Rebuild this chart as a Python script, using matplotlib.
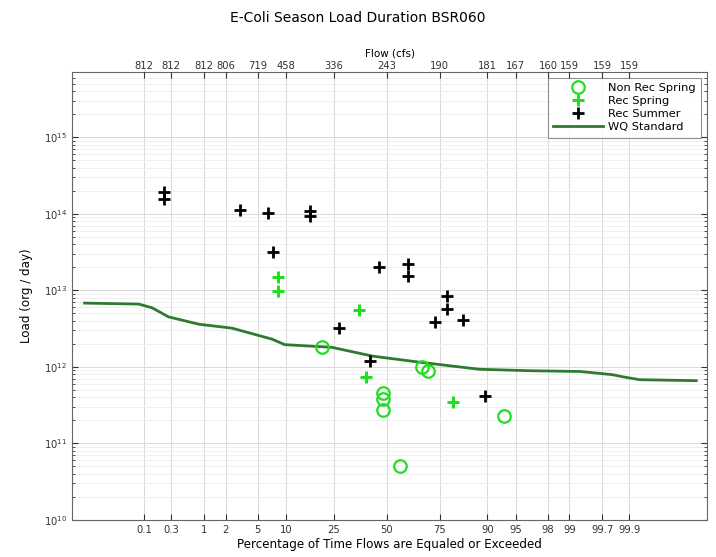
import math
import numpy as np
import matplotlib
matplotlib.use('Agg')
import matplotlib.pyplot as plt
from matplotlib.ticker import LogLocator, NullFormatter, NullLocator

# percent exceedance ticks and the flow (cfs) shown on the top axis
pct_ticks = [0.1, 0.3, 1, 2, 5, 10, 25, 50, 75, 90, 95, 98, 99, 99.7, 99.9]
pct_labels = ['0.1', '0.3', '1', '2', '5', '10', '25', '50', '75', '90', '95', '98', '99', '99.7', '99.9']
flow_labels = ['812', '812', '812', '806', '719', '458', '336', '243', '190', '181', '167', '160', '159', '159', '159']

# WQ standard curve
wq_pct = [0.0059, 0.079, 0.14, 0.27, 0.84, 2.44, 7.2, 9.7, 24.2, 42.9, 66.3, 88.1,
          96.6, 99.31, 99.80, 99.87, 99.936, 99.996]
wq_load = [6.8e12, 6.6e12, 5.9e12, 4.5e12, 3.6e12, 3.2e12, 2.3e12, 1.95e12, 1.8e12,
           1.38e12, 1.15e12, 9.3e11, 8.9e11, 8.7e11, 7.9e11, 7.4e11, 6.8e11, 6.6e11]

# samples
nonrec_spring_pct = [20.3, 67.2, 70.0, 48.0, 48.0, 48.0, 93.3, 56.6]
nonrec_spring_load = [1.82e12, 1.0e12, 8.9e11, 4.5e11, 3.8e11, 2.7e11, 2.3e11, 5.1e10]

rec_spring_pct = [8.2, 8.2, 36.0, 39.4, 80.0]
rec_spring_load = [1.48e13, 9.7e12, 5.5e12, 7.4e11, 3.5e11]

rec_summer_pct = [0.23, 0.23, 3.07, 6.5, 16.3, 16.3, 7.3, 46.0, 60.6, 60.6, 77.7, 77.7,
                  72.9, 83.3, 27.1, 41.4, 89.4]
rec_summer_load = [1.93e14, 1.57e14, 1.12e14, 1.02e14, 1.07e14, 9.4e13, 3.2e13, 2.0e13,
                   2.2e13, 1.52e13, 8.4e12, 5.66e12, 3.8e12, 4.1e12, 3.2e12, 1.2e12, 4.2e11]


# normal probability scale (Acklam's inverse normal approximation)
_a = [-3.969683028665376e+01, 2.209460984245205e+02, -2.759285104469687e+02,
      1.383577518672690e+02, -3.066479806614716e+01, 2.506628277459239e+00]
_b = [-5.447609879822406e+01, 1.615858368580409e+02, -1.556989798598866e+02,
      6.680131188771972e+01, -1.328068155288572e+01]
_c = [-7.784894002430293e-03, -3.223964580411365e-01, -2.400758277161838e+00,
      -2.549732539343734e+00, 4.374664141464968e+00, 2.938163982698783e+00]
_d = [7.784695709041462e-03, 3.224671290700398e-01, 2.445134137142996e+00,
      3.754408661907416e+00]


def pct_to_z(pct):
    p = np.clip(np.asarray(pct, dtype=float) / 100.0, 1e-12, 1 - 1e-12)
    plow = 0.02425
    q = np.sqrt(-2 * np.log(np.minimum(p, 1 - p)))
    tail = (((((_c[0]*q+_c[1])*q+_c[2])*q+_c[3])*q+_c[4])*q+_c[5]) / \
           ((((_d[0]*q+_d[1])*q+_d[2])*q+_d[3])*q+1)
    qc = p - 0.5
    r = qc * qc
    mid = (((((_a[0]*r+_a[1])*r+_a[2])*r+_a[3])*r+_a[4])*r+_a[5])*qc / \
          (((((_b[0]*r+_b[1])*r+_b[2])*r+_b[3])*r+_b[4])*r+1)
    return np.where(p < plow, tail, np.where(p > 1 - plow, -tail, mid))


_erf = np.vectorize(math.erf)


def z_to_pct(z):
    z = np.asarray(z, dtype=float)
    return 50.0 * (1 + _erf(z / math.sqrt(2)))


fig = plt.figure(figsize=(7.16, 5.57), dpi=100)
ax = fig.add_axes([0.1006, 0.0664, 0.8868, 0.8043])

line_green = '#2f7a2f'
pt_green = '#22dd22'

ax.plot(nonrec_spring_pct, nonrec_spring_load, 'o', mfc='none', mec=pt_green,
        ms=9, mew=1.6, label='Non Rec Spring', zorder=3)
ax.plot(rec_spring_pct, rec_spring_load, '+', color=pt_green, ms=9, mew=2.2,
        label='Rec Spring', zorder=3)
ax.plot(rec_summer_pct, rec_summer_load, '+', color='black', ms=9, mew=2.0,
        label='Rec Summer', zorder=3)
ax.plot(wq_pct, wq_load, '-', color=line_green, lw=2, label='WQ Standard', zorder=2)

xlim = (0.00304, 99.99775)
ax.set_xscale('function', functions=(pct_to_z, z_to_pct))
ax.set_yscale('log')
ax.set_xlim(*xlim)
ax.set_ylim(1e10, 10 ** 15.85)

ax.set_xticks(pct_ticks)
ax.set_xticklabels(pct_labels)
ax.xaxis.set_minor_locator(NullLocator())
ax.yaxis.set_major_locator(LogLocator(base=10, numticks=20))
ax.yaxis.set_minor_locator(LogLocator(base=10, subs=np.arange(2, 10), numticks=100))
ax.yaxis.set_minor_formatter(NullFormatter())

ax.grid(True, which='major', color='#d9d9d9', lw=0.7)
ax.grid(True, which='minor', axis='y', color='#ececec', lw=0.6)
ax.set_axisbelow(True)
ax.tick_params(which='both', direction='in', labelsize=7.2, right=True, colors='#333333')
ax.tick_params(which='major', length=4)
ax.tick_params(which='minor', length=2)
for s in ax.spines.values():
    s.set_color('#666666')
    s.set_linewidth(0.8)

ax.set_xlabel('Percentage of Time Flows are Equaled or Exceeded', fontsize=8.6, labelpad=2)
ax.set_ylabel('Load (org / day)', fontsize=8.6, labelpad=8)

top = ax.twiny()
top.set_xscale('function', functions=(pct_to_z, z_to_pct))
top.set_xlim(*xlim)
top.set_xticks(pct_ticks)
top.set_xticklabels(flow_labels)
top.xaxis.set_minor_locator(NullLocator())
top.tick_params(direction='in', labelsize=7.2, length=4, colors='#333333', pad=1)
top.set_xlabel('Flow (cfs)', fontsize=7.5, labelpad=3)
for s in top.spines.values():
    s.set_visible(False)

fig.text(0.5, 1 - 18 / 557, 'E-Coli Season Load Duration BSR060', fontsize=10,
         ha='center', va='center')

leg = ax.legend(loc='upper right', fontsize=8.2, frameon=True, fancybox=False,
                edgecolor='#777777', borderaxespad=0.5, handlelength=4.4,
                labelspacing=0.25, borderpad=0.5, handletextpad=0.4)
leg.get_frame().set_linewidth(0.8)

fig.savefig('out.png', dpi=100)
